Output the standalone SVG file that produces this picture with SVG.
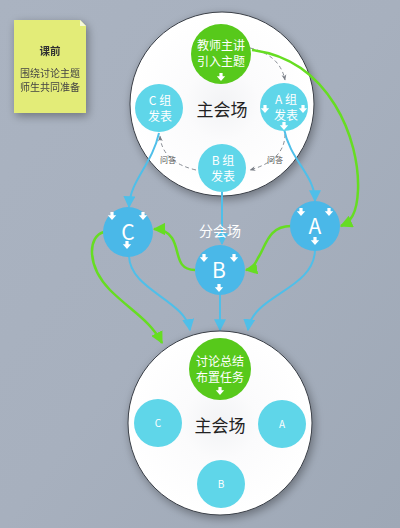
<svg xmlns="http://www.w3.org/2000/svg" width="400" height="528" viewBox="0 0 400 528">
<defs>
  <linearGradient id="bg" x1="0" y1="0" x2="1" y2="1">
    <stop offset="0" stop-color="#aab3c1"/>
    <stop offset="0.5" stop-color="#a7b0be"/>
    <stop offset="1" stop-color="#9ea8b6"/>
  </linearGradient>
  <radialGradient id="big" cx="0.5" cy="0.5" r="0.5">
    <stop offset="0" stop-color="#f2f3f5"/>
    <stop offset="0.4" stop-color="#fbfbfc"/>
    <stop offset="1" stop-color="#ffffff"/>
  </radialGradient>
  <filter id="sh" x="-30%" y="-30%" width="160%" height="160%">
    <feGaussianBlur in="SourceAlpha" stdDeviation="5"/>
    <feOffset dx="2" dy="3"/>
    <feComponentTransfer><feFuncA type="linear" slope="0.35"/></feComponentTransfer>
    <feMerge><feMergeNode/><feMergeNode in="SourceGraphic"/></feMerge>
  </filter>
  <path id="da" d="M-1.6,-5 h3.2 v3.2 h2.6 l-4.2,4.8 l-4.2,-4.8 h2.6 z" fill="#ffffff"/>
  <marker id="ab" viewBox="0 0 10 10" refX="9" refY="5" markerWidth="6" markerHeight="6" orient="auto-start-reverse">
    <path d="M0,0 L10,5 L0,10 z" fill="#4fbfe9"/>
  </marker>
  <marker id="ag" viewBox="0 0 10 10" refX="9" refY="5" markerWidth="5" markerHeight="5" orient="auto">
    <path d="M0,0 L10,5 L0,10 z" fill="#66dd22"/>
  </marker>
  <marker id="ad" viewBox="0 0 10 10" refX="9" refY="5" markerWidth="6" markerHeight="6" orient="auto">
    <path d="M0,1 L10,5 L0,9 L3,5 z" fill="#777c84"/>
  </marker>
  <style>
    .t{font-family:"Noto Sans CJK SC","Noto Sans",sans-serif;text-anchor:middle}
    .w{fill:#ffffff}
    .cy{fill:#5fd6e9}
    .mb{fill:#4ab8e8}
    .gr{fill:#57c91b}
    .bl{stroke:#4fbfe9;stroke-width:2;fill:none}
    .gl{stroke:#66dd22;stroke-width:2.5;fill:none}
    .dl{stroke:#8a8f96;stroke-width:1;fill:none;stroke-dasharray:4 3}
  </style>
</defs>
<rect width="400" height="528" fill="url(#bg)"/>

<g id="note" filter="url(#sh)">
  <path d="M14,20 H80 L86,26 V113 H14 Z" fill="#e3ec78"/>
  <path d="M80,20 V26 H86 Z" fill="#f6f9d8"/>
  <text class="t" x="50" y="55" font-size="10.5" font-weight="bold" fill="#333">课前</text>
  <text class="t" x="50" y="77" font-size="10" fill="#444">围绕讨论主题</text>
  <text class="t" x="50" y="91" font-size="10" fill="#444">师生共同准备</text>
</g>

<g id="main-top">
  <circle cx="222" cy="104" r="92" fill="url(#big)" stroke="#3a3f47" stroke-width="1" filter="url(#sh)"/>
  <text class="t" x="222" y="116" font-size="17" fill="#222">主会场</text>
</g>

<g id="connectors">
  <path class="dl" d="M250,48 Q280,55 285,80" marker-end="url(#ad)"/>
  <path class="dl" d="M285,134 Q285,160 250,170" marker-end="url(#ad)"/>
  <path class="dl" d="M196,170 Q162,162 160,136" marker-end="url(#ad)"/>
  <text class="t" x="275" y="163" font-size="8" fill="#555">问答</text>
  <text class="t" x="168" y="163" font-size="8" fill="#555">问答</text>
  <path class="bl" d="M159,133 C152,165 130,180 129,207" marker-end="url(#ab)"/>
  <path class="bl" d="M284,129 C290,160 315,175 315,201" marker-end="url(#ab)"/>
  <path class="bl" d="M222,192 V244" marker-end="url(#ab)"/>
  <path class="bl" d="M129,256 C130,290 185,300 190,330" marker-end="url(#ab)"/>
  <path class="bl" d="M220,295 V330" marker-end="url(#ab)"/>
  <path class="bl" d="M315,250 C314,290 252,295 248,330" marker-end="url(#ab)"/>
  <path class="gl" d="M252,50 C330,60 360,140 358,190 C357,215 350,222 341,226" marker-end="url(#ag)"/>
  <path class="gl" d="M291,226 C268,226 266,246 258,258 C254,266 252,269 246,270" marker-end="url(#ag)"/>
  <path class="gl" d="M195,270 C175,270 180,250 172,238 C168,232 162,229 154,229" marker-end="url(#ag)"/>
  <path class="gl" d="M104,232 C88,236 86,265 110,290 C130,310 150,320 162,343" marker-end="url(#ag)"/>
</g>

<g id="teacher-intro">
  <circle cx="221" cy="54" r="30" class="gr"/>
  <text class="t w" x="221" y="50" font-size="12">教师主讲</text>
  <text class="t w" x="221" y="66" font-size="12">引入主题</text>
  <use href="#da" x="221" y="78"/>
</g>
<g id="group-a-present">
  <circle cx="284" cy="107" r="24" class="cy"/>
  <text class="t w" x="286" y="104" font-size="12">A 组</text>
  <text class="t w" x="286" y="120" font-size="12">发表</text>
  <use href="#da" x="265" y="110"/>
  <use href="#da" x="303" y="110"/>
  <use href="#da" x="284" y="127"/>
</g>
<g id="group-b-present">
  <circle cx="222" cy="168" r="24" class="cy"/>
  <text class="t w" x="223" y="165" font-size="12">B 组</text>
  <text class="t w" x="223" y="181" font-size="12">发表</text>
</g>
<g id="group-c-present">
  <circle cx="159" cy="108" r="24" class="cy"/>
  <text class="t w" x="160" y="105" font-size="12">C 组</text>
  <text class="t w" x="160" y="121" font-size="12">发表</text>
</g>

<text class="t w" x="220" y="236" font-size="14">分会场</text>

<g id="sub-c">
  <circle cx="128" cy="232" r="25" class="mb"/>
  <text class="t w" x="128" y="240" font-size="21">C</text>
  <use href="#da" x="112" y="217"/>
  <use href="#da" x="143" y="217"/>
  <use href="#da" x="127" y="246"/>
</g>
<g id="sub-b">
  <circle cx="220" cy="270" r="25" class="mb"/>
  <text class="t w" x="219" y="278" font-size="21">B</text>
  <use href="#da" x="204" y="259"/>
  <use href="#da" x="234" y="259"/>
  <use href="#da" x="219" y="289"/>
</g>
<g id="sub-a">
  <circle cx="315" cy="226" r="25" class="mb"/>
  <text class="t w" x="315" y="234" font-size="21">A</text>
  <use href="#da" x="301" y="213"/>
  <use href="#da" x="329" y="213"/>
  <use href="#da" x="315" y="242"/>
</g>

<g id="main-bottom">
  <circle cx="220" cy="423" r="92" fill="url(#big)" stroke="#3a3f47" stroke-width="1" filter="url(#sh)"/>
  <text class="t" x="220" y="432" font-size="17" fill="#222">主会场</text>
</g>
<g id="summary">
  <circle cx="220" cy="369" r="31" class="gr"/>
  <text class="t w" x="220" y="366" font-size="12">讨论总结</text>
  <text class="t w" x="220" y="382" font-size="12">布置任务</text>
  <use href="#da" x="220" y="392"/>
</g>
<g id="bottom-c">
  <circle cx="158" cy="423" r="24" class="cy"/>
  <text class="t w" x="158" y="427" font-size="10">C</text>
</g>
<g id="bottom-a">
  <circle cx="282" cy="424" r="24" class="cy"/>
  <text class="t w" x="282" y="428" font-size="10">A</text>
</g>
<g id="bottom-b">
  <circle cx="221" cy="484" r="24" class="cy"/>
  <text class="t w" x="221" y="488" font-size="10">B</text>
</g>
</svg>
